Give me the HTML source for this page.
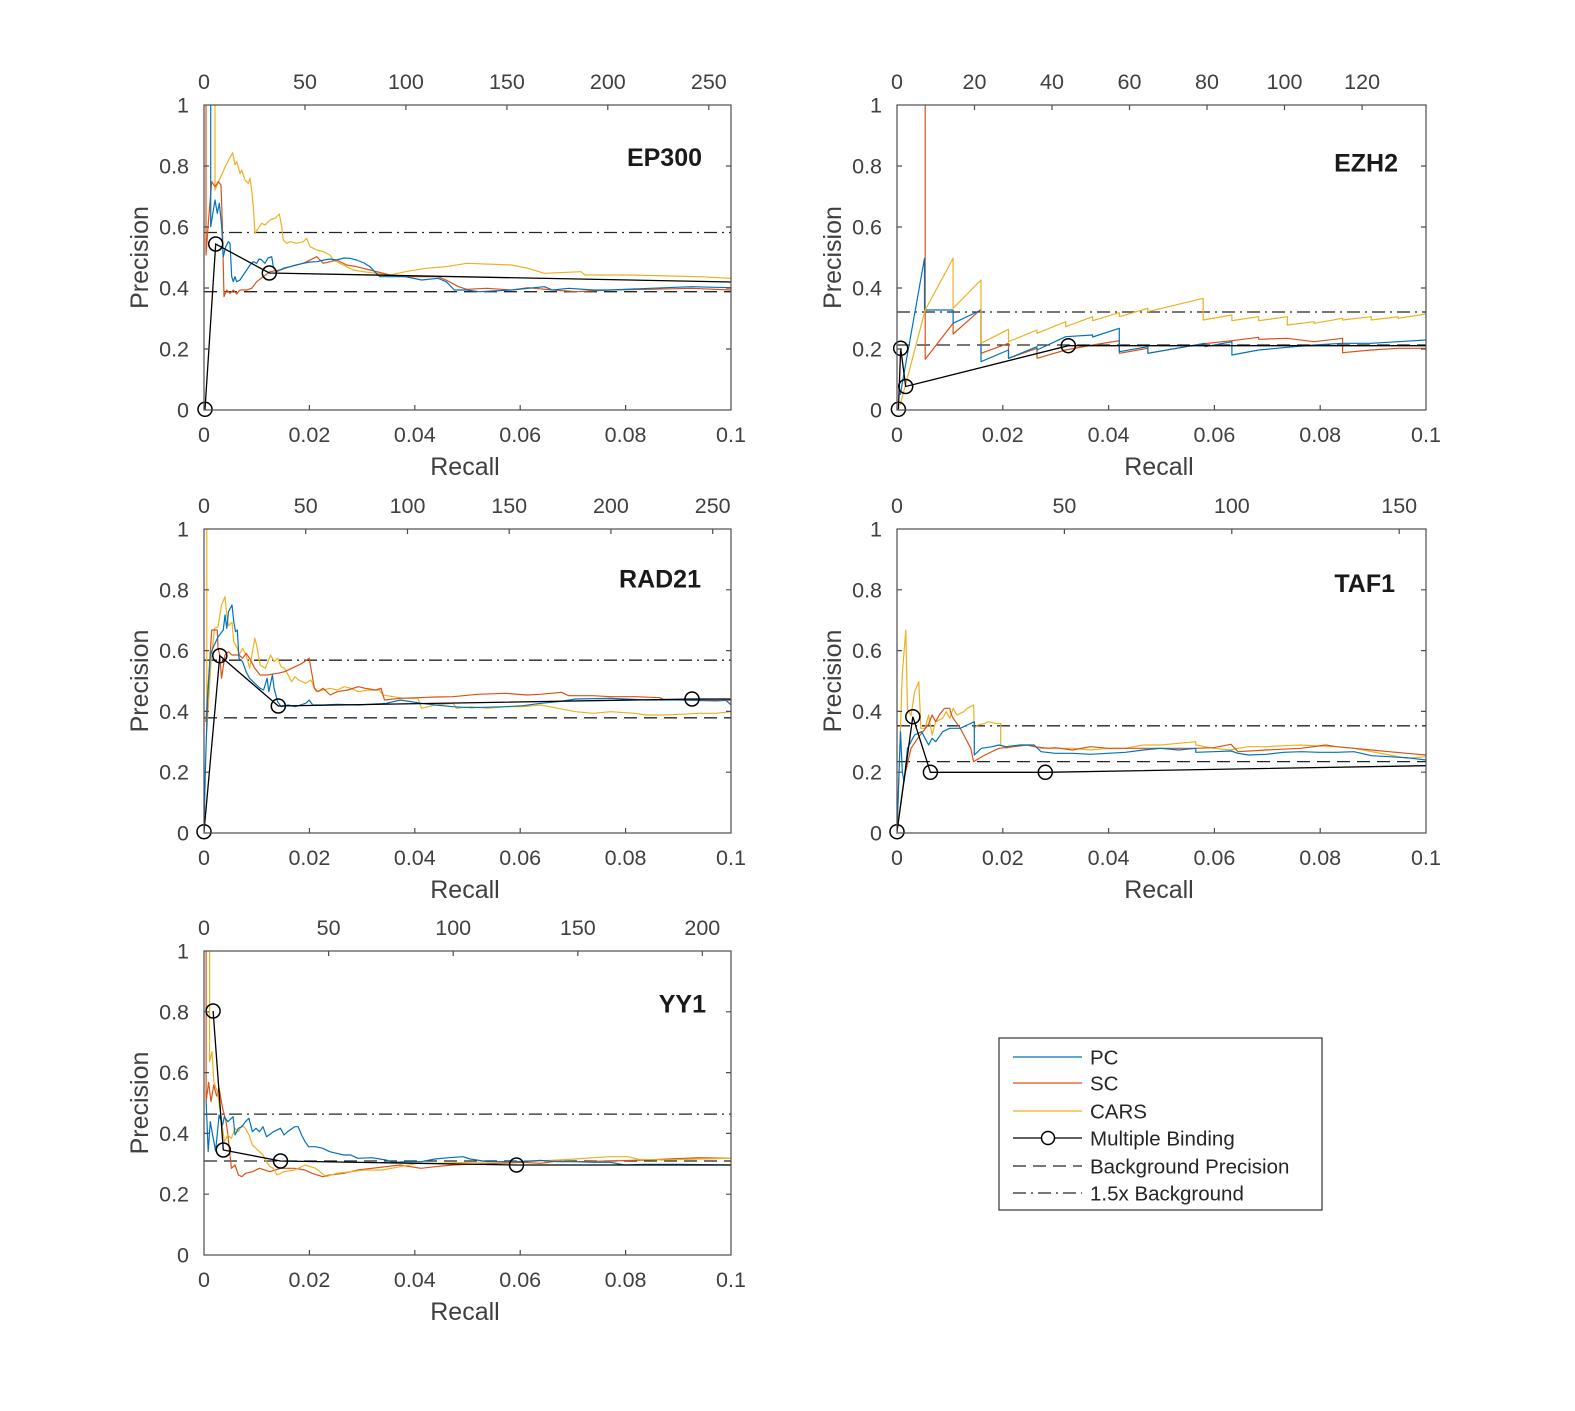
<!DOCTYPE html>
<html><head><meta charset="utf-8">
<style>
html,body{margin:0;padding:0;background:#fff;}
svg{display:block;}
.tk{font-family:"Liberation Sans",Arial,sans-serif;font-size:21.5px;fill:#404040;}
.lab{font-family:"Liberation Sans",Arial,sans-serif;font-size:25px;fill:#404040;}
.ttl{font-family:"Liberation Sans",Arial,sans-serif;font-size:25px;font-weight:bold;fill:#1a1a1a;}
.lg{font-family:"Liberation Sans",Arial,sans-serif;font-size:20.5px;fill:#262626;}
.ax{fill:none;stroke:#4d4d4d;stroke-width:1.2;}
.tick{stroke:#4d4d4d;stroke-width:1.2;}
.pc{fill:none;stroke:#0072BD;stroke-width:1.2;stroke-linejoin:round;}
.sc{fill:none;stroke:#D95319;stroke-width:1.2;stroke-linejoin:round;}
.cars{fill:none;stroke:#EDB120;stroke-width:1.2;stroke-linejoin:round;}
.mb{fill:none;stroke:#000;stroke-width:1.3;}
.mk{fill:none;stroke:#000;stroke-width:1.5;}
.bg{stroke:#262626;stroke-width:1.3;stroke-dasharray:13 7;}
.bg15{stroke:#262626;stroke-width:1.3;stroke-dasharray:13 5 2 5;}
</style></head>
<body>
<svg width="1575" height="1411" viewBox="0 0 1575 1411" xmlns="http://www.w3.org/2000/svg">
<rect width="1575" height="1411" fill="#fff"/>
<defs>
<clipPath id="c527a"><rect x="0" y="0" width="527" height="305"/></clipPath>
<clipPath id="c529a"><rect x="0" y="0" width="529" height="305"/></clipPath>
<clipPath id="c527b"><rect x="0" y="0" width="527" height="304"/></clipPath>
<clipPath id="c529b"><rect x="0" y="0" width="529" height="304"/></clipPath>
</defs>

<!-- ================= PANEL 1 EP300 ================= -->
<g transform="translate(204,105)">
<g clip-path="url(#c527a)">
<line class="bg" x1="0" y1="186.7" x2="527" y2="186.7"/>
<line class="bg15" x1="0" y1="127.5" x2="527" y2="127.5"/>
<polyline class="cars" points="11,0 11,85 15.3,75 22,60 28.7,47.7 31,60 32.7,56.7 36,68.3 37.7,65 41,75 44.3,78.3 46,73.3 47.7,85 49.3,101.7 51,128.3 54.3,123.3 57.7,118.3 61,120 66,115 71,113.3 75.3,109 77.7,121.7 79.3,135 82.7,138.3 86,136.7 92.7,138.3 99.3,136.7 102.7,133.3 106,141.7 112.7,145 119.3,146.7 126,150 129.3,155 136,158.3 142.7,161.7 149.3,165 159.3,166.7 172.7,168.3 186,170 201.4,166.7 221.8,163.3 242,161.7 262.7,158.3 307.6,160 324,163.3 340.3,168.3 377,166.7 381,170 426,170 467,171 495.5,171.7 527,173.3"/>
<polyline class="sc" points="2,0 2,150 4.3,118.3 7.7,76.7 11,81.7 14.3,76.7 17,80 18.3,118.3 20,191.7 22.7,185 26,188.3 29.3,185 32.7,189 36,185 42.7,185 47.7,183.3 52.7,176.7 59.3,171.7 66,166.7 76,165 86,161.7 99.3,158.3 112.7,151.7 119.3,158.3 132.7,155 142.7,160 152.7,161.7 166,165 186,170 201.4,171.7 234,171.7 242,175 254.5,181.7 262.7,184.3 283,183.3 307.6,185 324,182.7 348.5,185 373,186.7 405.6,185 446.5,184.3 487.3,183.3 527,185"/>
<polyline class="pc" points="6.7,0 6.7,121.7 11,95 13.3,108.3 15.3,98.3 17.7,121.7 19.3,151.7 21.7,141.7 24.3,136.7 26,138.3 27.7,171.7 29.3,176.7 31,171.7 32.7,176.7 36,175 39.3,170 42.7,165 46,160 49.3,156.7 52.7,158.3 55,154 57.7,155 61,158.3 64,153 67.7,151.7 69.3,161.7 72.7,166.7 80,163 86,161.7 92,160 99.3,158.3 106,157 112.7,156.7 120,155 126,154 132.7,155 140,153 146,153.3 152.7,155 160,158 166,161.7 172,168 176,171.7 186,171.7 201.4,171.7 217.7,175 234,173.3 242.2,176.7 250.4,185 262.7,185 274.9,186.7 307.6,185 340.3,181.7 348.5,185 364.8,183.3 389.3,185 405.6,185 446.5,183.3 487.3,181.7 527,182.7"/>
<polyline class="mb" points="1,304.3 11.7,139 65.3,168 527,177"/>
</g>
<circle class="mk" cx="1" cy="304.3" r="7"/><circle class="mk" cx="11.7" cy="139" r="7"/><circle class="mk" cx="65.3" cy="168" r="7"/>
<rect class="ax" x="0" y="0" width="527" height="305"/>
<path class="tick" d="M0,244h5M0,183h5M0,122h5M0,61h5M527,244h-5M527,183h-5M527,122h-5M527,61h-5M105.4,305v-5M210.8,305v-5M316.2,305v-5M421.6,305v-5M101,0v5M201.9,0v5M302.9,0v5M403.8,0v5M504.8,0v5"/>
<g class="tk" text-anchor="end"><text x="-15" y="312.5">0</text><text x="-15" y="251.5">0.2</text><text x="-15" y="190.5">0.4</text><text x="-15" y="129.5">0.6</text><text x="-15" y="68.5">0.8</text><text x="-15" y="7.5">1</text></g>
<g class="tk" text-anchor="middle"><text x="0" y="337">0</text><text x="105.4" y="337">0.02</text><text x="210.8" y="337">0.04</text><text x="316.2" y="337">0.06</text><text x="421.6" y="337">0.08</text><text x="527" y="337">0.1</text>
<text x="0" y="-16">0</text><text x="101" y="-16">50</text><text x="201.9" y="-16">100</text><text x="302.9" y="-16">150</text><text x="403.8" y="-16">200</text><text x="504.8" y="-16">250</text></g>
<text class="lab" x="261" y="370" text-anchor="middle">Recall</text>
<text class="lab" transform="translate(-56,152.5) rotate(-90)" text-anchor="middle">Precision</text>
<text class="ttl" x="498" y="61" text-anchor="end">EP300</text>
</g>

<!-- ================= PANEL 2 EZH2 ================= -->
<g transform="translate(897,105)">
<g clip-path="url(#c529a)">
<line class="bg" x1="0" y1="240" x2="529" y2="240"/>
<line class="bg15" x1="0" y1="207" x2="529" y2="207"/>
<polyline class="sc" points="28.2,0 28.2,254.3 56.1,218.3 56.1,229 84,204.3 84,248.3 111.5,238.3 111.5,253.3 140,243.3 140,253.3 168.7,245 195.6,240 222.3,235.7 222.3,248.3 250.9,243.3 250.9,248.3 304.5,239 334.9,235.7 361.7,232.3 361.7,234.3 390.3,233.3 417.1,236.7 445.6,233.3 445.6,247.7 474.3,245 501.1,243.3 529,243.3"/>
<polyline class="pc" points="3.2,290 27.5,153.3 27.5,205 56.1,205 56.1,218.3 84,205 84,256.7 111.5,245 111.5,253.3 140,241.7 140,245 168.7,231.7 195.6,230 195.6,232 222.3,223.3 222.3,246.7 250.9,241.7 250.9,248.3 308,238.3 308,241.7 334.9,236.7 334.9,250 361.7,245 390.3,242.3 417.1,240 445.6,238.3 474.3,238.3 501.1,236.7 529,235"/>
<polyline class="cars" points="3.2,300 28.2,205 56.1,153.3 56.1,203.3 84,175 84,238.3 111.5,224.3 111.5,236.7 140,225 140,228.3 168.7,216.7 168.7,221.7 195.6,211.7 195.6,215.7 222.3,207.7 222.3,211.7 250.9,203.3 250.9,206.7 306.2,193.3 306.2,215 334.9,210 334.9,215.7 361.7,211.7 361.7,215.7 390.3,211.7 390.3,220 417.1,216.7 417.1,218.3 445.6,213.3 445.6,215 474.3,211.7 474.3,215 501.1,211.7 501.1,213.3 529,209"/>
<polyline class="mb" points="1.4,304.3 3.7,243.3 8.7,281.5 171.3,240.7 529,240.7"/>
</g>
<circle class="mk" cx="1.4" cy="304.3" r="7"/><circle class="mk" cx="3.7" cy="243.3" r="7"/><circle class="mk" cx="8.7" cy="281.5" r="7"/><circle class="mk" cx="171.3" cy="240.7" r="7"/>
<rect class="ax" x="0" y="0" width="529" height="305"/>
<path class="tick" d="M0,244h5M0,183h5M0,122h5M0,61h5M529,244h-5M529,183h-5M529,122h-5M529,61h-5M105.8,305v-5M211.6,305v-5M317.4,305v-5M423.2,305v-5M77.5,0v5M155,0v5M232.5,0v5M310,0v5M387.5,0v5M465.1,0v5"/>
<g class="tk" text-anchor="end"><text x="-15" y="312.5">0</text><text x="-15" y="251.5">0.2</text><text x="-15" y="190.5">0.4</text><text x="-15" y="129.5">0.6</text><text x="-15" y="68.5">0.8</text><text x="-15" y="7.5">1</text></g>
<g class="tk" text-anchor="middle"><text x="0" y="337">0</text><text x="105.8" y="337">0.02</text><text x="211.6" y="337">0.04</text><text x="317.4" y="337">0.06</text><text x="423.2" y="337">0.08</text><text x="529" y="337">0.1</text>
<text x="0" y="-16">0</text><text x="77.5" y="-16">20</text><text x="155" y="-16">40</text><text x="232.5" y="-16">60</text><text x="310" y="-16">80</text><text x="387.5" y="-16">100</text><text x="465.1" y="-16">120</text></g>
<text class="lab" x="262" y="370" text-anchor="middle">Recall</text>
<text class="lab" transform="translate(-56,152.5) rotate(-90)" text-anchor="middle">Precision</text>
<text class="ttl" x="501" y="66.5" text-anchor="end">EZH2</text>
</g>

<!-- ================= PANEL 3 RAD21 ================= -->
<g transform="translate(204,529)">
<g clip-path="url(#c527b)">
<line class="bg" x1="0" y1="188.8" x2="527" y2="188.8"/>
<line class="bg15" x1="0" y1="131.2" x2="527" y2="131.2"/>
<polyline class="cars" points="2.8,0 2.8,202.7 7,132.7 10.5,99.3 14,98 17.5,76 21,67.7 22.8,86.7 24.5,96.7 28,93.3 29.8,112.7 33.3,119.3 35.1,126 38.6,119.3 42.1,126 45.6,139.3 50.8,109.3 52.6,116 56.1,136 61.3,139.3 66.6,126 70.1,132.7 73.6,129.3 77.1,137.7 80.6,139.3 87.6,152.7 91.1,147.7 94.6,151 98.2,152.7 101.7,154.3 106.9,151 112.2,162.7 119.2,161 126.2,159.3 133.2,161 140.2,157.7 147.2,159.3 154.3,162.7 164.8,161 175.3,161 178.8,166 189.3,167.7 199.8,169.3 213.9,169.3 217.4,179.3 231.4,176 248.9,174.3 252.4,179.3 266.5,177.7 284,179.3 301.6,177.7 319.1,177.7 336.6,176 354,179.3 371.6,182.7 389.1,184.3 406.7,182.7 431.2,184.3 441.7,186 459.3,186 476.8,185.3 494.3,184.3 511.9,184.3 527,182.7"/>
<polyline class="sc" points="1.8,193 7.7,101 13.3,101 14,119.3 15.8,126 17.5,149.3 21,126 24.5,122.7 28,126 35,126 38.6,129.3 42.1,124.3 45.6,129.3 50.8,139.3 56.1,146 63.1,146 73.6,144.3 80.6,142.7 91.1,137.7 98.2,134.3 105.2,129.3 110.4,159.3 114,162.7 119.2,159.3 126.2,166 133.2,162.7 143.7,161 154.3,157.7 161.3,159.3 171.8,161 177,159.3 180.5,171 196.3,169.3 213.9,168.7 231.4,168 248.9,167.7 273.5,165.3 301.6,164.3 322.6,166 336.6,165.3 357.6,163.3 364.6,166.7 389.1,166.7 406.7,167.7 431.2,167.7 455.8,168.7 459.3,170.3 476.8,171 511.9,172 527,171"/>
<polyline class="pc" points="0,302.7 1.4,240 3.5,172 6.3,126 8.8,119.3 14,108 19.3,101 21,86 22.8,99.3 24.5,82.7 28,76 29.8,92.7 31.5,102.7 33.3,101 35,129.3 38.6,132.7 42.1,142.7 45.6,149.3 49.1,152.7 52.6,156 56.1,159.3 59.6,161 63.1,149.3 64.8,162.7 68.4,146 70.1,159.3 73.6,172.7 77.1,177.7 84.1,176 91.1,177.7 101.7,174.3 105.2,171 108.7,176 119.2,176 133.2,175.3 154.3,176 182.3,174.3 196.3,171 217.4,174.3 231.4,176 248.9,177.7 266.5,178.7 301.6,177.7 319.1,176.7 336.6,174.3 354,172.7 371.6,170 406.7,169.3 441.7,171 476.8,171 511.9,171.3 522,171.3 527,176"/>
<polyline class="mb" points="0,302.7 15.8,126.7 74.3,177 488,170 527,170"/>
</g>
<circle class="mk" cx="0" cy="302.7" r="7"/><circle class="mk" cx="15.8" cy="126.7" r="7"/><circle class="mk" cx="74.3" cy="177" r="7"/><circle class="mk" cx="488" cy="170" r="7"/>
<rect class="ax" x="0" y="0" width="527" height="304"/>
<path class="tick" d="M0,243.2h5M0,182.4h5M0,121.6h5M0,60.8h5M527,243.2h-5M527,182.4h-5M527,121.6h-5M527,60.8h-5M105.4,304v-5M210.8,304v-5M316.2,304v-5M421.6,304v-5M101.7,0v5M203.5,0v5M305.2,0v5M406.9,0v5M508.7,0v5"/>
<g class="tk" text-anchor="end"><text x="-15" y="311.5">0</text><text x="-15" y="250.7">0.2</text><text x="-15" y="189.9">0.4</text><text x="-15" y="129.1">0.6</text><text x="-15" y="68.3">0.8</text><text x="-15" y="7.5">1</text></g>
<g class="tk" text-anchor="middle"><text x="0" y="336">0</text><text x="105.4" y="336">0.02</text><text x="210.8" y="336">0.04</text><text x="316.2" y="336">0.06</text><text x="421.6" y="336">0.08</text><text x="527" y="336">0.1</text>
<text x="0" y="-16">0</text><text x="101.7" y="-16">50</text><text x="203.5" y="-16">100</text><text x="305.2" y="-16">150</text><text x="406.9" y="-16">200</text><text x="508.7" y="-16">250</text></g>
<text class="lab" x="261" y="369" text-anchor="middle">Recall</text>
<text class="lab" transform="translate(-56,152) rotate(-90)" text-anchor="middle">Precision</text>
<text class="ttl" x="497" y="58.5" text-anchor="end">RAD21</text>
</g>

<!-- ================= PANEL 4 TAF1 ================= -->
<g transform="translate(897,529)">
<g clip-path="url(#c529b)">
<line class="bg" x1="0" y1="232.6" x2="529" y2="232.6"/>
<line class="bg15" x1="0" y1="196.8" x2="529" y2="196.8"/>
<polyline class="cars" points="0,302.7 5.3,145 8.8,101 10.5,180 14,186.7 17.6,162.7 21.8,152.7 23.9,199.3 28.1,199.3 31.6,186 35.1,206 38.7,192.7 45.7,189.3 49.2,182.7 52.7,189.3 56.2,179.3 59.8,186 66.8,182.7 70.3,179.3 76.6,176 77.3,199.3 80.8,196 87.9,194.3 91.4,192.7 98.4,194.3 103.7,194.3 103.7,216 108.9,219.3 123,216 133.5,216 144,219.3 158.2,219.3 175.7,219.3 193.3,221 210.9,219.3 228.5,219.3 246.1,216 263.7,216 281.5,214.3 298.8,212.7 298.8,216 316.4,219.3 334,221 341,219.3 351.6,217.7 369.2,217.7 386.7,216.7 404.3,216 421.9,217 439.5,217.7 457,219.3 474.6,222.7 492.2,226 509.8,229.3 529,227.7"/>
<polyline class="sc" points="0,302.7 7,250 14,219.3 21.1,208.7 31.6,195.3 35.1,186 38.7,192.7 42.2,186 47.5,179.3 52.7,179.3 54.5,186 56.2,189.3 63.3,199.3 66.8,206 70.3,212.7 73.8,219.3 76.6,232.7 87.9,226 101.9,219.3 116,217.7 130.1,216 137.1,217.7 151.2,219.3 158.2,218.7 175.7,221 193.3,217.7 210.9,219.3 228.5,219.3 246.1,219.3 263.7,219.3 281.5,219.3 298.8,219.3 316.4,218.7 334,215.3 341,222.7 369.2,221 404.3,219.3 428.8,216 439.5,217.7 457,219.3 474.6,221 492.2,222.7 509.8,224.3 529,226"/>
<polyline class="pc" points="0,302.7 3.5,202.7 5.3,242.7 7,252.7 10.5,219.3 14,212.7 17.6,206 24.6,202.7 31.6,216 35.1,209.3 38.7,212.7 45.7,202.7 52.7,199.3 63.3,199.3 70.3,196 77.3,192.7 77.3,226 84.3,219.3 94.9,217.7 101.9,216 108.9,217.7 123,216 137.1,216 144,222.7 158.2,224.3 175.7,224.3 193.3,225.3 210.9,224.3 228.5,223.3 246.1,221 263.7,219.3 281.5,221 298.8,219.3 298.8,223.3 316.4,222.7 334,222 341,224.3 351.6,226 369.2,225.3 386.7,223.3 404.3,222.7 421.9,223.3 439.5,223.3 457,222.7 474.6,226.7 492.2,227.7 509.8,228.7 529,231"/>
<polyline class="mb" points="0,302.7 15.8,187.7 33.4,243.3 148.3,243.3 529,236.7"/>
</g>
<circle class="mk" cx="0" cy="302.7" r="7"/><circle class="mk" cx="15.8" cy="187.7" r="7"/><circle class="mk" cx="33.4" cy="243.3" r="7"/><circle class="mk" cx="148.3" cy="243.3" r="7"/>
<rect class="ax" x="0" y="0" width="529" height="304"/>
<path class="tick" d="M0,243.2h5M0,182.4h5M0,121.6h5M0,60.8h5M529,243.2h-5M529,182.4h-5M529,121.6h-5M529,60.8h-5M105.8,304v-5M211.6,304v-5M317.4,304v-5M423.2,304v-5M167.4,0v5M334.8,0v5M502.2,0v5"/>
<g class="tk" text-anchor="end"><text x="-15" y="311.5">0</text><text x="-15" y="250.7">0.2</text><text x="-15" y="189.9">0.4</text><text x="-15" y="129.1">0.6</text><text x="-15" y="68.3">0.8</text><text x="-15" y="7.5">1</text></g>
<g class="tk" text-anchor="middle"><text x="0" y="336">0</text><text x="105.8" y="336">0.02</text><text x="211.6" y="336">0.04</text><text x="317.4" y="336">0.06</text><text x="423.2" y="336">0.08</text><text x="529" y="336">0.1</text>
<text x="0" y="-16">0</text><text x="167.4" y="-16">50</text><text x="334.8" y="-16">100</text><text x="502.2" y="-16">150</text></g>
<text class="lab" x="262" y="369" text-anchor="middle">Recall</text>
<text class="lab" transform="translate(-56,152) rotate(-90)" text-anchor="middle">Precision</text>
<text class="ttl" x="498" y="63" text-anchor="end">TAF1</text>
</g>

<!-- ================= PANEL 5 YY1 ================= -->
<g transform="translate(204,951)">
<g clip-path="url(#c527b)">
<line class="bg" x1="0" y1="210" x2="527" y2="210"/>
<line class="bg15" x1="0" y1="163.1" x2="527" y2="163.1"/>
<polyline class="sc" points="2.1,0 2.1,150.7 4.6,131.3 7,150.7 9.8,134 12.6,145 15.1,137.3 18.6,157.3 22.1,170.7 23.9,184 25.6,200.7 27.4,217.3 31,214 34.4,224 38,225.7 41.4,222.3 48.4,220.7 55.5,217.3 65.9,220.7 76.5,217.3 90.6,217.3 101.1,219 108.1,222.3 118.7,225.7 125.7,224 139.7,222.3 153.8,219 167.8,217.3 181.9,215.7 196,214 217.1,217.3 231.1,215.7 248.7,214 266.3,213.3 294.4,212.3 318.9,211.3 336.5,212.3 354,210 371.6,210.7 406.7,210 441.8,209 494.4,206.7 527,207.3"/>
<polyline class="cars" points="5.6,0 5.6,110.7 8,100.7 9.8,130.7 13.3,140.7 16.8,163.3 20.3,190.7 23.9,184 27.4,187.3 31,177.3 34.4,180.7 37.9,174 41.4,177.3 45,184 48.4,194 52,197.3 55.5,200.7 59,204 62.5,210.7 66,215.7 69.5,217.3 73,224 80,220.7 90.6,219 101.1,214 111.6,217.3 122.2,225.7 132.7,222.3 146.8,220.7 160.8,219 178.4,219 195.9,215.7 213.4,212.3 231,212.3 266.1,211.3 301.2,210.7 336.3,210 371.4,208 388.9,206.7 406.5,205.7 424,205.7 434.6,208.3 459.2,209 494.3,208 527,207.3"/>
<polyline class="pc" points="2.1,150 4.2,200.7 6.3,170.7 8,180.7 11.6,200 15.1,164 18.6,174 20.3,165.7 23.9,170.7 27.4,167.3 29.1,165.7 31,184 34.4,177.3 38,175.7 41.4,170.7 44.9,167.3 48.4,180.7 52,177.3 55.5,180.7 59,175.7 62.5,185.7 69.5,180.7 76.5,177.3 80,184 83.5,180.7 90.6,175.7 94.1,175.7 97.6,184 101.1,190.7 104.6,195.7 111.6,195.7 118.7,197.3 125.7,200.7 132.7,202.3 139.7,204 146.8,204 150.3,205.7 153.8,207.3 167.8,206.7 181.9,209 188.9,211.3 202.9,210.7 217,210.7 231,208 245,206.7 259.1,205.7 266.1,208 283.7,210.7 301.2,210.7 318.8,210.7 336.3,209.3 353.9,210.7 371.4,210.7 389,211.3 406.5,211.3 420.6,214 441.6,213.3 476.7,213.3 527,214"/>
<polyline class="mb" points="9.1,60 19.3,199 76.5,210 312.5,214 527,214"/>
</g>
<circle class="mk" cx="9.1" cy="60" r="7"/><circle class="mk" cx="19.3" cy="199" r="7"/><circle class="mk" cx="76.5" cy="210" r="7"/><circle class="mk" cx="312.5" cy="214" r="7"/>
<rect class="ax" x="0" y="0" width="527" height="304"/>
<path class="tick" d="M0,243.2h5M0,182.4h5M0,121.6h5M0,60.8h5M527,243.2h-5M527,182.4h-5M527,121.6h-5M527,60.8h-5M105.4,304v-5M210.8,304v-5M316.2,304v-5M421.6,304v-5M124.6,0v5M249.2,0v5M373.8,0v5M498.3,0v5"/>
<g class="tk" text-anchor="end"><text x="-15" y="311.5">0</text><text x="-15" y="250.7">0.2</text><text x="-15" y="189.9">0.4</text><text x="-15" y="129.1">0.6</text><text x="-15" y="68.3">0.8</text><text x="-15" y="7.5">1</text></g>
<g class="tk" text-anchor="middle"><text x="0" y="336">0</text><text x="105.4" y="336">0.02</text><text x="210.8" y="336">0.04</text><text x="316.2" y="336">0.06</text><text x="421.6" y="336">0.08</text><text x="527" y="336">0.1</text>
<text x="0" y="-16">0</text><text x="124.6" y="-16">50</text><text x="249.2" y="-16">100</text><text x="373.8" y="-16">150</text><text x="498.3" y="-16">200</text></g>
<text class="lab" x="261" y="369" text-anchor="middle">Recall</text>
<text class="lab" transform="translate(-56,152) rotate(-90)" text-anchor="middle">Precision</text>
<text class="ttl" x="502" y="61.5" text-anchor="end">YY1</text>
</g>

<!-- ================= LEGEND ================= -->
<g>
<rect x="999" y="1038" width="323" height="172" fill="#fff" stroke="#333" stroke-width="1.2"/>
<line x1="1013" y1="1057" x2="1082" y2="1057" stroke="#0072BD" stroke-width="1.3"/>
<line x1="1013" y1="1083" x2="1082" y2="1083" stroke="#D95319" stroke-width="1.3"/>
<line x1="1013" y1="1111" x2="1082" y2="1111" stroke="#EDB120" stroke-width="1.3"/>
<line x1="1013" y1="1138" x2="1082" y2="1138" stroke="#000" stroke-width="1.3"/>
<circle cx="1048" cy="1138" r="6.5" fill="#fff" stroke="#000" stroke-width="1.5"/>
<line class="bg" x1="1013" y1="1166" x2="1082" y2="1166"/>
<line class="bg15" x1="1013" y1="1193" x2="1082" y2="1193"/>
<text class="lg" x="1090" y="1064.5">PC</text>
<text class="lg" x="1090" y="1090.5">SC</text>
<text class="lg" x="1090" y="1118.5">CARS</text>
<text class="lg" x="1090" y="1145.5">Multiple Binding</text>
<text class="lg" x="1090" y="1173.5">Background Precision</text>
<text class="lg" x="1090" y="1200.5">1.5x Background</text>
</g>
</svg>
</body></html>
